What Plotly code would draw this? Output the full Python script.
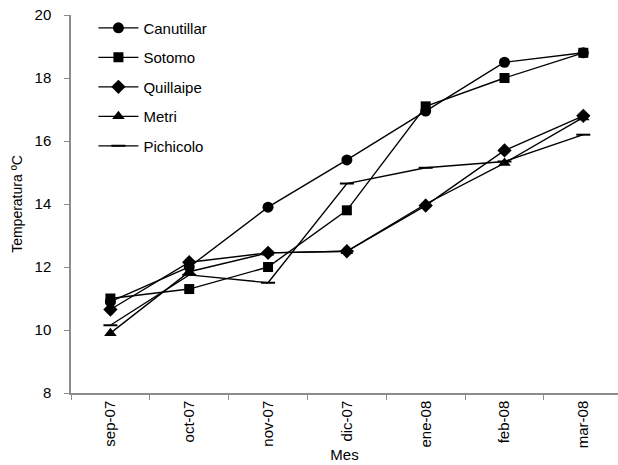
import plotly.graph_objects as go

months = ["sep-07", "oct-07", "nov-07", "dic-07", "ene-08", "feb-08", "mar-08"]
canutillar = [10.9, 12.0, 13.9, 15.4, 16.95, 18.5, 18.8]
sotomo = [11.0, 11.3, 12.0, 13.8, 17.1, 18.0, 18.8]
quillaipe = [10.65, 12.15, 12.45, 12.5, 13.95, 15.7, 16.8]
metri = [9.9, 11.85, 12.45, 12.5, 14.0, 15.3, 16.75]
pichicolo = [10.15, 11.75, 11.5, 14.65, 15.15, 15.35, 16.2]

series = [
    ("Canutillar", canutillar, "circle", 11),
    ("Sotomo", sotomo, "square", 10),
    ("Quillaipe", quillaipe, "diamond", 11),
    ("Metri", metri, "triangle-up", 11),
    ("Pichicolo", pichicolo, "line-ew", 10),
]

fig = go.Figure()
for i, (name, vals, sym, sz) in enumerate(series):
    fig.add_trace(go.Scatter(
        x=months, y=vals, name=name, mode="lines+markers",
        legendgroup=name,
        line=dict(color="black", width=1.4),
        marker=dict(symbol=sym, size=sz, color="black",
                    line=dict(color="black", width=2 if sym == "line-ew" else 0)),
    ))

font = "Liberation Sans, Arial, sans-serif"
fig.update_layout(
    width=618, height=465,
    margin=dict(l=71, r=0, t=15, b=72),
    plot_bgcolor="white", paper_bgcolor="white",
    font=dict(family=font, size=15, color="black"),
    showlegend=True,
    legend=dict(x=0.041, y=1.009, xanchor="left", yanchor="top",
                bgcolor="rgba(0,0,0,0)", font=dict(size=15),
                itemwidth=40,
                traceorder="grouped", tracegroupgap=7),
    xaxis=dict(type="category", range=[-0.5, 6.44], showgrid=False,
               showline=True, linecolor="#8c8c8c", linewidth=1.5,
               ticks="outside", tickson="boundaries", ticklen=5, tickcolor="#8c8c8c",
               tickangle=-90, tickfont=dict(size=15),
               title=dict(text="Mes", font=dict(size=15), standoff=2)),
    yaxis=dict(range=[8, 20], dtick=2, showgrid=False, zeroline=False,
               showline=True, linecolor="#8c8c8c", linewidth=1.5,
               ticks="outside", ticklen=5, tickcolor="#8c8c8c",
               tickfont=dict(size=15), ticklabelstandoff=10,
               title=dict(text="Temperatura ºC", font=dict(size=14), standoff=9)),
)

fig.write_html("out.html")
